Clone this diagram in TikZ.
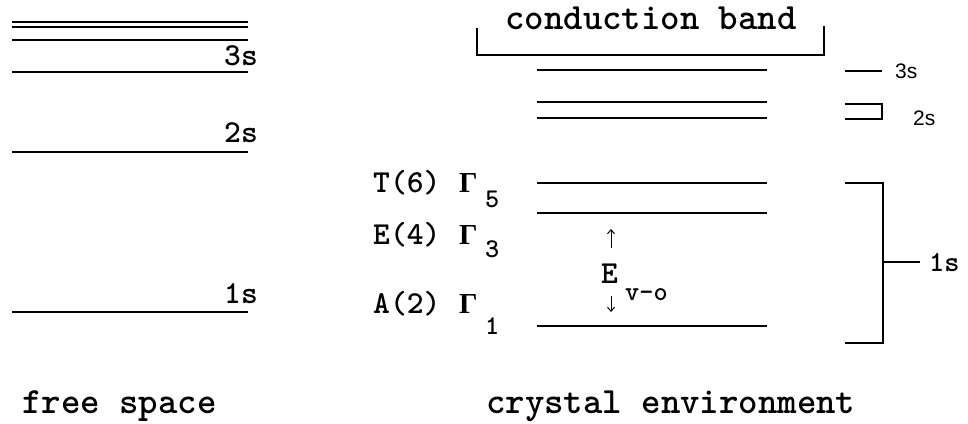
\documentclass[tikz,border=0pt]{standalone}
\usepackage{fontspec}
\newfontfamily\helv{Liberation Sans}
\newfontfamily\tms{Liberation Serif}
\usetikzlibrary{arrows.meta}
\begin{document}
\begin{tikzpicture}[x=1pt,y=-1pt,
  lvl/.style={line width=1.2pt},
  brk/.style={line width=1.2pt},
  big/.style={inner sep=0pt,anchor=base west,font=\ttfamily\bfseries\fontsize{37}{37}\selectfont},
  lbl/.style={inner sep=0pt,anchor=base west,font=\ttfamily\bfseries\fontsize{32}{32}\selectfont},
  gam/.style={inner sep=0pt,anchor=base west,font=\tms\bfseries\fontsize{29}{29}\selectfont},
  sublbl/.style={inner sep=0pt,anchor=base west,font=\ttfamily\bfseries\fontsize{27}{27}\selectfont},
  rlbl/.style={inner sep=0pt,anchor=base west,font=\helv\fontsize{21}{21}\selectfont},
  arr/.style={line width=1pt,-{Straight Barb[length=4pt,width=7pt]}}]
\useasboundingbox (0,0) rectangle (968,423);
% free space levels
\foreach \yy in {22,27,40,72,152,312} \draw[lvl] (12,\yy) -- (248,\yy);
\node[lbl,anchor=base east] (f3s) at (258,65) {3s};
\node[lbl,anchor=base east] (f2s) at (258,142) {2s};
\node[lbl,anchor=base east] (f1s) at (258,303) {1s};
\node[big] (free) at (22,413) {free space};
% conduction band
\node[big,anchor=base] (cb) at (651,29) {conduction band};
\draw[brk] (477,28) -- (477,55) -- (824,55) -- (824,26);
% crystal levels
\foreach \yy in {70,102,118,183,213,326} \draw[lvl] (537,\yy) -- (767,\yy);
\node[lbl] (T) at (373,192) {T(6)};
\node[gam] (G5) at (459,192) {Γ};
\node[sublbl] (s5) at (485,207) {5};
\node[lbl] (E) at (373,244) {E(4)};
\node[gam] (G3) at (459,244) {Γ};
\node[sublbl] (s3) at (485,257) {3};
\node[lbl] (A) at (373,313) {A(2)};
\node[gam] (G1) at (459,313) {Γ};
\node[sublbl] (s1) at (485,334) {1};
\node[lbl] (Ev) at (601,283) {E};
\node[sublbl] (vo) at (625,300) {v-o};
\coordinate (u0) at (611,248);
\coordinate (u1) at (611,229);
\coordinate (d0) at (611,296);
\coordinate (d1) at (611,312);
\draw[arr] (u0) -- (u1);
\draw[arr] (d0) -- (d1);
\node[big] (crys) at (486,413) {crystal environment};
% right side
\coordinate (r3a) at (845,71); \coordinate (r3b) at (882,71);
\draw[brk] (r3a) -- (r3b);
\node[rlbl] (r3s) at (895,78) {3s};
\draw[brk] (845,104) -- (882,104) -- (882,119) -- (845,119);
\node[rlbl] (r2s) at (913,125) {2s};
\draw[brk] (845,183) -- (883,183) -- (883,343) -- (845,343);
\coordinate (t0) at (883,262); \coordinate (t1) at (920,262);
\draw[brk] (t0) -- (t1);
\node[inner sep=0pt,anchor=west,font=\ttfamily\bfseries\fontsize{29}{29}\selectfont] (r1s) at (929,263) {1s};
\end{tikzpicture}
\end{document}
